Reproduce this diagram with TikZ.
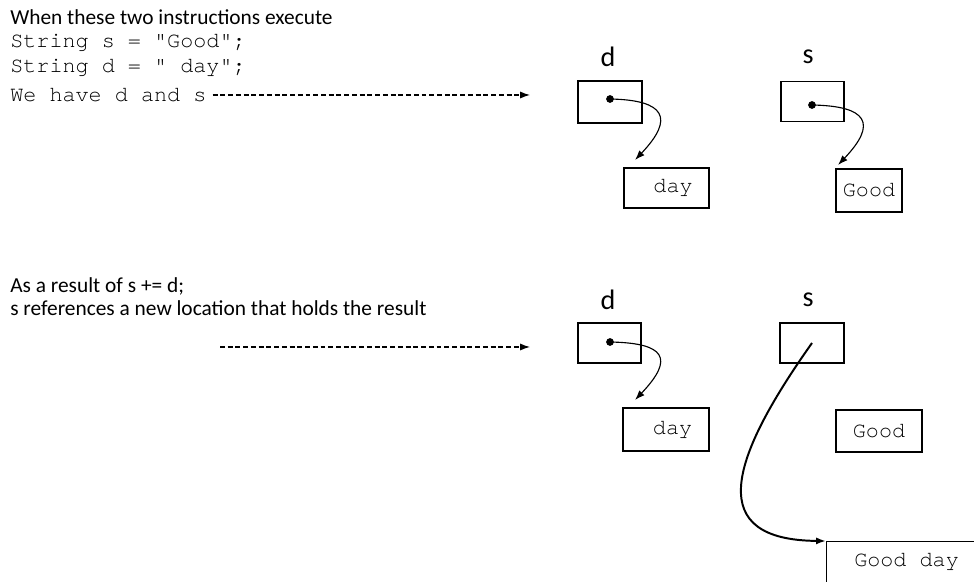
\documentclass[tikz,border=0pt]{standalone}
\usepackage{fontspec}
\setmainfont{Carlito}
\setmonofont{texgyrecursor-regular.otf}
\usetikzlibrary{arrows.meta}
\usetikzlibrary{positioning}
\tikzset{
  txt/.style={anchor=west, inner sep=0pt, font=\fontsize{15.2}{17}\selectfont},
  code/.style={anchor=west, inner sep=0pt, font=\fontsize{15.5}{17}\selectfont\ttfamily},
  var/.style={font=\fontsize{20}{22}\selectfont},
  cell/.style={draw, thick, inner sep=0pt},
  val/.style={draw, thick, inner sep=0pt, font=\fontsize{15.5}{17}\selectfont\ttfamily},
  dot/.style={circle, fill, inner sep=0pt, minimum size=5.5pt},
  ptr/.style={-{Latex[length=7pt,width=5pt]}, thick},
  hint/.style={-{Latex[length=7pt,width=5pt]}, thick, dash pattern=on 3.5pt off 2pt}
}

\begin{document}
\begin{tikzpicture}[x=0.025cm, y=-0.025cm]

  \useasboundingbox (0,0) rectangle (974,582);

  % the two instructions
  \node [txt] (when) at (10,17) {When these two instructions execute};
  \node [code] (lines) at (10,43) {String s = "Good";};
  \node [code] (lined) at (10,68) {String d = " day";};
  \node [code] (have) at (10,95) {We have d and s};
  \coordinate (haveend) at (530,95);
  \draw [hint] (have.east) ++(6,0) -- (haveend);

  % before: d and s
  \node [var] (dlabA) at (608,57) {d};
  \node [var] (slabA) at (808,57) {s};
  \node [cell, minimum width=64*0.025cm, minimum height=42*0.025cm] (dA) at (610,102) {};
  \node [cell, minimum width=63*0.025cm, minimum height=40*0.025cm] (sA) at (812.5,101.5) {};
  \node [val, minimum width=85*0.025cm, minimum height=40*0.025cm] (dayA) at (666.5,188) {\ day};
  \node [val, minimum width=66*0.025cm, minimum height=43*0.025cm] (goodA) at (869,190.5) {Good};
  \node [dot] (dotdA) at (610,99) {};
  \node [dot] (dotsA) at (812,105) {};
  \coordinate (tipdA) at (635,160);
  \coordinate (tipsA) at (838,165);
  \draw [ptr] (dotdA.center) .. controls +(55,1) and +(40,-42) .. (tipdA);
  \draw [ptr] (dotsA.center) .. controls +(55,1) and +(40,-42) .. (tipsA);

  % after s += d
  \node [txt] (result) at (10,286) {As a result of s += d;};
  \node [txt] (refs) at (10,308) {s references a new location that holds the result};
  \coordinate (resstart) at (220,347);
  \coordinate (resend) at (530,347);
  \draw [hint] (resstart) -- (resend);

  \node [var] (dlabB) at (608,300) {d};
  \node [var] (slabB) at (808,300) {s};
  \node [cell, minimum width=63*0.025cm, minimum height=40*0.025cm] (dB) at (609.5,343) {};
  \node [cell, minimum width=64*0.025cm, minimum height=40*0.025cm] (sB) at (812,343) {};
  \node [val, minimum width=86*0.025cm, minimum height=43*0.025cm] (dayB) at (666,429.5) {\ day};
  \node [val, minimum width=86*0.025cm, minimum height=42*0.025cm] (goodB) at (879,431) {Good};
  \node [val, anchor=north west, minimum width=160*0.025cm, minimum height=50*0.025cm,
         text depth=14*0.025cm] (gooddayB) at (826,541) {Good day};
  \node [dot] (dotdB) at (610,342) {};
  \coordinate (tipdB) at (635,400);
  \draw [ptr] (dotdB.center) .. controls +(55,1) and +(40,-42) .. (tipdB);
  \draw [ptr, line width=1.4pt] (sB.center) .. controls +(-85,120) and +(-120,-1) .. (gooddayB.north west);

\end{tikzpicture}
\end{document}
